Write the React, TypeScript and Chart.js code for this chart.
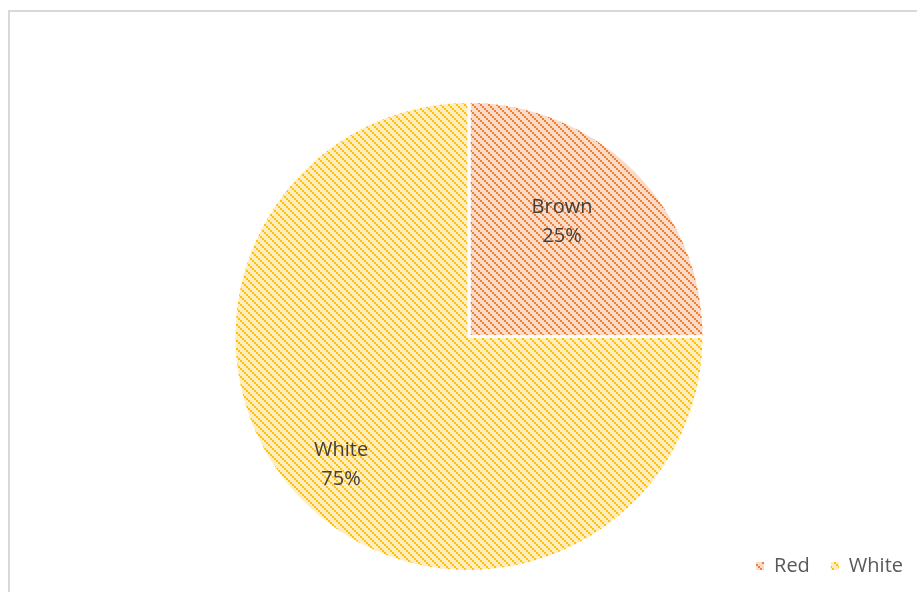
import React, { useEffect, useRef } from "react";
import { Chart, registerables } from "chart.js";

Chart.register(...registerables);

// ---- data ----
const legendLabels = ["Red", "White"];
const sliceNames = ["Brown", "White"];
const sliceValues = [25, 75];

// ---- styles ----
const stripeColors = ["#EE7F35", "#FFC107"];
const baseColors = ["#FADBC8", "#FFEDC0"];
const labelRadius = [0.629, 0.77];
const labelAngleShiftDeg = [-6, 0];
const FONT_FAMILY = "'Open Sans', 'Noto Sans', sans-serif";

function makePattern(ctx: CanvasRenderingContext2D, bg: string, fg: string) {
  const n = 8;
  const tile = document.createElement("canvas");
  tile.width = n;
  tile.height = n;
  const t = tile.getContext("2d")!;
  t.fillStyle = bg;
  t.fillRect(0, 0, n, n);
  t.fillStyle = fg;
  for (let i = 0; i < 4; i++) t.fillRect(i * 2, i * 2, 2, 2);
  return ctx.createPattern(tile, "repeat")!;
}

const legendOverlay = {
  id: "legendOverlay",
  afterLayout(chart: any) {
    const ca = chart.chartArea;
    const lg = chart.legend;
    ca.bottom = lg.bottom - 13;
    ca.height = ca.bottom - ca.top;
  },
};

const sliceLabels = {
  id: "sliceLabels",
  afterDatasetsDraw(chart: any) {
    const meta = chart.getDatasetMeta(0);
    const total = sliceValues.reduce((a, b) => a + b, 0);
    const ctx: CanvasRenderingContext2D = chart.ctx;
    ctx.save();
    ctx.font = `20px ${FONT_FAMILY}`;
    ctx.fillStyle = "#404040";
    ctx.textAlign = "center";
    ctx.textBaseline = "middle";
    meta.data.forEach((arc: any, i: number) => {
      const { x, y, startAngle, endAngle, outerRadius } = arc.getProps(
        ["x", "y", "startAngle", "endAngle", "outerRadius"],
        true
      );
      const a = (startAngle + endAngle) / 2 + (labelAngleShiftDeg[i] * Math.PI) / 180;
      const r = outerRadius * labelRadius[i];
      const cx = x + Math.cos(a) * r;
      const cy = y + Math.sin(a) * r;
      ctx.fillText(sliceNames[i], cx, cy - 14.5);
      ctx.fillText(Math.round((sliceValues[i] / total) * 100) + "%", cx, cy + 14.5);
    });
    ctx.restore();
  },
};

export default function App() {
  const canvasRef = useRef<HTMLCanvasElement>(null);

  useEffect(() => {
    const canvas = canvasRef.current!;
    const ctx = canvas.getContext("2d")!;
    const patterns = baseColors.map((b, i) => makePattern(ctx, b, stripeColors[i]));
    const ov: any = Chart.overrides as any;
    const baseGen =
      ov.pie?.plugins?.legend?.labels?.generateLabels ??
      ov.doughnut.plugins.legend.labels.generateLabels;

    const chart = new Chart(canvas, {
      type: "pie",
      data: {
        labels: legendLabels,
        datasets: [
          {
            data: sliceValues,
            backgroundColor: patterns as any,
            borderColor: "#FFFFFF",
            borderWidth: 3,
          },
        ],
      },
      options: {
        responsive: false,
        animation: false,
        events: [],
        layout: { padding: { left: 14, right: 0, top: 100, bottom: 6 } },
        plugins: {
          legend: {
            position: "bottom",
            align: "end",
            labels: {
              font: { family: FONT_FAMILY, size: 20 },
              color: "#595959",
              boxWidth: 8,
              boxHeight: 8,
              padding: 21,
              generateLabels: (c: any) =>
                baseGen(c).map((l: any) => ({ ...l, lineWidth: 0 })),
            },
          },
          tooltip: { enabled: false },
        },
      } as any,
      plugins: [legendOverlay, sliceLabels],
    });
    return () => chart.destroy();
  }, []);

  return (
    <div
      style={{
        position: "fixed",
        left: 0,
        top: 0,
        width: 917,
        height: 592,
        overflow: "hidden",
        background: "#FFFFFF",
      }}
    >
      <div
        style={{
          position: "absolute",
          left: 8,
          top: 10,
          width: 1000,
          height: 1000,
          borderLeft: "2px solid #D9D9D9",
          borderTop: "2px solid #D9D9D9",
        }}
      />
      <canvas
        ref={canvasRef}
        width={924}
        height={592}
        style={{ position: "absolute", left: 0, top: 0, width: 924, height: 592 }}
      />
    </div>
  );
}
